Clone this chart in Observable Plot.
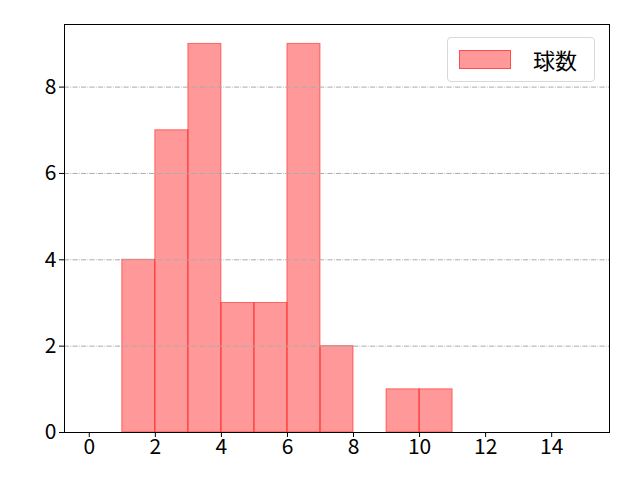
<!DOCTYPE html>
<html><head><meta charset="utf-8">
<script src="https://cdn.jsdelivr.net/npm/d3@7"></script>
<script src="https://cdn.jsdelivr.net/npm/@observablehq/plot@0.6"></script>
<style>
body{margin:0;background:#fff;}
#wrap{position:relative;width:640px;height:480px;font-family:"Noto Sans CJK JP","Noto Sans",sans-serif;}
#chart svg text{font-size:21px;font-family:"Noto Sans CJK JP","Noto Sans",sans-serif;fill:#000;}
#legend{position:absolute;left:447px;top:37px;width:148px;height:45px;border:1px solid #d8d8d8;border-radius:4px;background:rgba(255,255,255,0.8);box-sizing:border-box;}
#legend .sw{position:absolute;left:11px;top:12px;width:52px;height:19px;background:rgba(255,0,0,0.4);border:1px solid rgba(255,0,0,0.5);box-sizing:border-box;}
#legend .lb{position:absolute;left:85px;top:6px;font-size:22px;line-height:30px;color:#000;}
</style></head>
<body><div id="wrap"><div id="chart"></div><div id="legend"><div class="sw"></div><div class="lb">球数</div></div></div>
<script>
const binStarts = [1, 2, 3, 4, 5, 6, 7, 8, 9, 10];
const counts = [4, 7, 9, 3, 3, 9, 2, 0, 1, 1];
const xTicks = [0, 2, 4, 6, 8, 10, 12, 14];
const yTicks = [0, 2, 4, 6, 8];
const seriesName = "球数";

const bins = binStarts.map((s, i) => ({x1: s, x2: s + 1, y: counts[i]})).filter(d => d.y > 0);

const chart = Plot.plot({
  width: 640, height: 480,
  marginLeft: 64, marginRight: 31, marginTop: 24, marginBottom: 48,
  style: {fontFamily: '"Noto Sans CJK JP","Noto Sans",sans-serif', fontSize: "21px", color: "#000", background: "#fff"},
  x: {domain: [-0.75, 15.75], label: null},
  y: {domain: [0, 9.45], label: null},
  marks: [
    Plot.rectY(bins, {x1: "x1", x2: "x2", y: "y", fill: "red", fillOpacity: 0.4, stroke: "red", strokeOpacity: 0.5, strokeWidth: 1, inset: 0}),
    Plot.gridY(yTicks.filter(d => d > 0), {stroke: "#aaaaaa", strokeOpacity: 1, strokeWidth: 1, strokeDasharray: "5.1,1.3,0.8,1.3"}),
    Plot.axisX({ticks: xTicks, tickSize: 5, tickPadding: 2, label: null, stroke: "black"}),
    Plot.axisY({ticks: yTicks, tickSize: 5, tickPadding: 3, label: null, stroke: "black"}),
    Plot.frame({stroke: "black", strokeWidth: 1})
  ]
});
document.getElementById("chart").appendChild(chart);
</script></body></html>
